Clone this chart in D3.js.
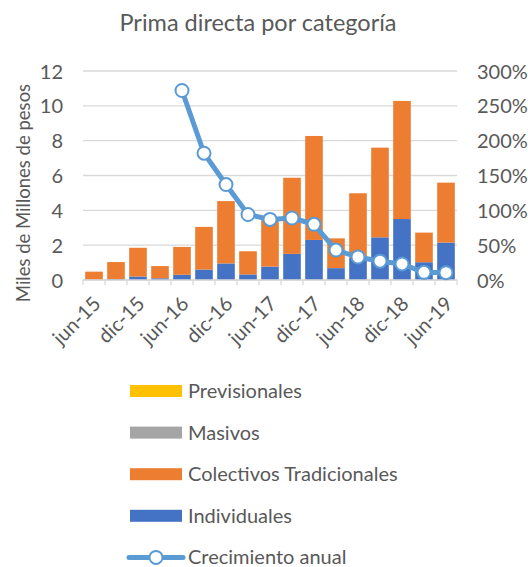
<!DOCTYPE html>
<html>
<head>
<meta charset="utf-8">
<script src="https://cdn.jsdelivr.net/npm/d3@7"></script>
<style>
  body { margin: 0; background: #fff; }
  svg text { font-family: Lato, "Open Sans", sans-serif; fill: #595959; }
</style>
</head>
<body>
<svg id="chart" width="528" height="567"></svg>
<script>
// trimestres, jun-15 .. jun-19
var periods = ['jun-15','sep-15','dic-15','mar-16','jun-16','sep-16','dic-16','mar-17',
               'jun-17','sep-17','dic-17','mar-18','jun-18','sep-18','dic-18','mar-19','jun-19'];
var tick_labels = ['jun-15','dic-15','jun-16','dic-16','jun-17','dic-17','jun-18','dic-18','jun-19'];

// miles de millones de pesos
var individuales = [0.02, 0.05, 0.2, 0.1, 0.3, 0.6, 0.95, 0.32, 0.77, 1.5, 2.3, 0.68, 1.3, 2.45, 3.5, 1.02, 2.15];
var colectivos   = [0.46, 0.98, 1.65, 0.7, 1.6, 2.45, 3.58, 1.33, 2.75, 4.37, 5.97, 1.71, 3.68, 5.15, 6.78, 1.7, 3.44];
var masivos      = [0, 0, 0, 0, 0, 0, 0, 0, 0, 0, 0, 0, 0, 0, 0, 0, 0];
var previsionales= [0, 0, 0, 0, 0, 0, 0, 0, 0, 0, 0, 0, 0, 0, 0, 0, 0];

// crecimiento anual (desde jun-16)
var growth_periods = periods.slice(4);
var crecimiento = [2.72, 1.82, 1.37, 0.94, 0.87, 0.89, 0.80, 0.43, 0.33, 0.27, 0.23, 0.11, 0.105];

var series_names = ['Individuales', 'Colectivos Tradicionales', 'Masivos', 'Previsionales'];
var series_colors = ['#4472C4', '#ED7D31', '#A5A5A5', '#FFC000'];

var svg = d3.select('#chart');
var m_left = 83, m_right = 457, m_top = 71, m_bottom = 280;

var x = d3.scaleBand().domain(periods).range([m_left, m_right]).paddingInner(0.2).paddingOuter(0.1);
var y = d3.scaleLinear().domain([0, 12]).range([m_bottom, m_top]);
var y2 = d3.scaleLinear().domain([0, 3]).range([m_bottom, m_top]);

// title
svg.append('text').attr('x', 258).attr('y', 31).attr('text-anchor', 'middle')
   .style('font-size', '23.5px').text('Prima directa por categoría');

// gridlines
svg.append('g').selectAll('line').data(y.ticks(6)).enter().append('line')
   .attr('x1', m_left).attr('x2', m_right)
   .attr('y1', function(d){ return y(d); }).attr('y2', function(d){ return y(d); })
   .attr('stroke', '#D9D9D9').attr('stroke-width', 1.3);

// left axis
var ya = d3.axisLeft(y).ticks(6).tickSize(0).tickPadding(20);
svg.append('g').attr('transform', 'translate(' + m_left + ',0)').call(ya)
   .call(function(g){ g.select('.domain').remove(); })
   .selectAll('text').style('font-size', '20px').attr('fill', '#595959').attr('dy', '0.35em');

// right axis
var ya2 = d3.axisRight(y2).ticks(6).tickSize(0).tickPadding(20).tickFormat(d3.format('.0%'));
svg.append('g').attr('transform', 'translate(' + m_right + ',0)').call(ya2)
   .call(function(g){ g.select('.domain').remove(); })
   .selectAll('text').style('font-size', '20px').attr('fill', '#595959').attr('dy', '0.35em');

// y label
svg.append('text').attr('transform', 'translate(30,' + 193 + ') rotate(-90)')
   .attr('text-anchor', 'middle').style('font-size', '18.5px').text('Miles de Millones de pesos');

// stacked bars
var table = periods.map(function(p, i){
   return {period: p, 'Individuales': individuales[i], 'Colectivos Tradicionales': colectivos[i],
           'Masivos': masivos[i], 'Previsionales': previsionales[i]};
});
var stack = d3.stack().keys(series_names)(table);
svg.append('g').selectAll('g').data(stack).enter().append('g')
   .attr('fill', function(d, i){ return series_colors[i]; })
   .selectAll('rect').data(function(d){ return d; }).enter().append('rect')
   .attr('x', function(d){ return x(d.data.period); })
   .attr('width', x.bandwidth())
   .attr('y', function(d){ return y(d[1]); })
   .attr('height', function(d){ return y(d[0]) - y(d[1]); });

// x axis baseline + category ticks
var step = x.step();
var xg = svg.append('g');
xg.append('line').attr('x1', m_left).attr('x2', m_right).attr('y1', m_bottom).attr('y2', m_bottom)
  .attr('stroke', '#D9D9D9').attr('stroke-width', 1.3);
xg.selectAll('line.tk').data(d3.range(periods.length + 1)).enter().append('line')
  .attr('class', 'tk')
  .attr('x1', function(i){ return m_left + i * step; }).attr('x2', function(i){ return m_left + i * step; })
  .attr('y1', m_bottom).attr('y2', m_bottom + 5)
  .attr('stroke', '#D9D9D9').attr('stroke-width', 1.3);
xg.selectAll('text').data(tick_labels).enter().append('text')
  .attr('transform', function(d){
     var cx = x(d) + x.bandwidth() / 2 + 3;
     return 'translate(' + cx + ',' + (m_bottom + 20) + ') rotate(-45)';
  })
  .attr('text-anchor', 'end').attr('dy', '0.35em').style('font-size', '20px').text(function(d){ return d; });

// growth line
var line = d3.line()
   .x(function(d, i){ return x(growth_periods[i]) + x.bandwidth() / 2; })
   .y(function(d){ return y2(d); });
svg.append('path').datum(crecimiento).attr('d', line)
   .attr('fill', 'none').attr('stroke', '#5B9BD5').attr('stroke-width', 5).attr('stroke-linejoin', 'round');
svg.append('g').selectAll('circle').data(crecimiento).enter().append('circle')
   .attr('cx', function(d, i){ return x(growth_periods[i]) + x.bandwidth() / 2; })
   .attr('cy', function(d){ return y2(d); })
   .attr('r', 6.5).attr('fill', '#fff').attr('stroke', '#5B9BD5').attr('stroke-width', 2);

// legend
var legend_items = ['Previsionales', 'Masivos', 'Colectivos Tradicionales', 'Individuales'];
var legend_colors = ['#FFC000', '#A5A5A5', '#ED7D31', '#4472C4'];
var lg = svg.append('g');
legend_items.forEach(function(name, i){
   var cy = 391 + i * 41.6;
   lg.append('rect').attr('x', 130).attr('y', cy - 6).attr('width', 52).attr('height', 12)
     .attr('fill', legend_colors[i]);
   lg.append('text').attr('x', 188).attr('y', cy).attr('dy', '0.35em')
     .style('font-size', '20px').text(name);
});
var ly = 391 + 4 * 41.6;
lg.append('line').attr('x1', 129).attr('x2', 183).attr('y1', ly).attr('y2', ly)
  .attr('stroke', '#5B9BD5').attr('stroke-width', 5).attr('stroke-linecap', 'round');
lg.append('circle').attr('cx', 156).attr('cy', ly).attr('r', 6.5)
  .attr('fill', '#fff').attr('stroke', '#5B9BD5').attr('stroke-width', 2);
lg.append('text').attr('x', 188).attr('y', ly).attr('dy', '0.32em')
  .style('font-size', '20px').text('Crecimiento anual');
</script>
</body>
</html>
